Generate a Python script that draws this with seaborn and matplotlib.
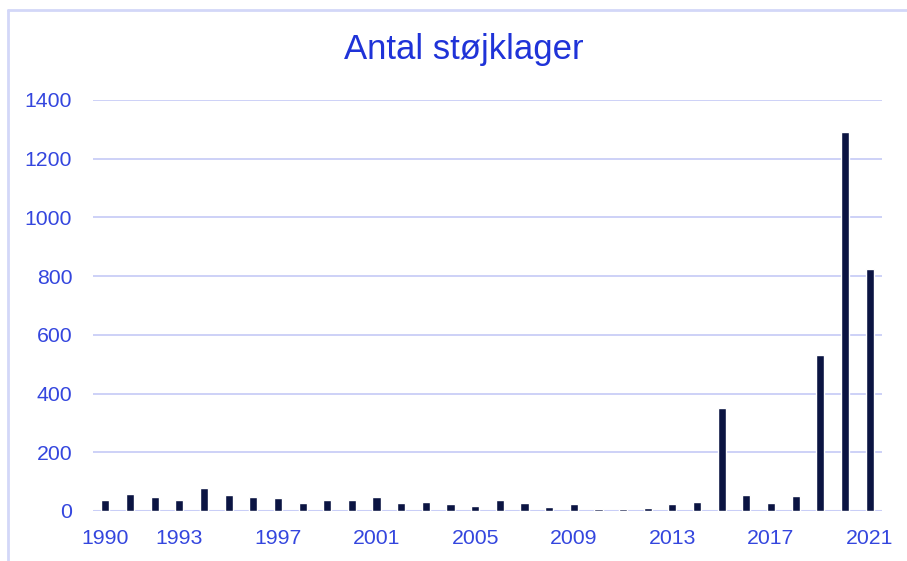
import matplotlib
matplotlib.use("Agg")
import matplotlib.pyplot as plt
import seaborn as sns
import pandas as pd
from matplotlib.lines import Line2D

years = list(range(1990, 2022))
complaints = [37, 58, 48, 38, 77, 55, 46, 45, 28, 38, 39, 46, 28, 30, 24, 17,
              37, 26, 15, 23, 7, 6, 9, 24, 31, 352, 55, 26, 52, 532, 1290, 825]
shown_labels = ["1990", "1993", "1997", "2001", "2005", "2009", "2013", "2017", "2021"]
title = "Antal støjklager"
yticks = [0, 200, 400, 600, 800, 1000, 1200, 1400]

df = pd.DataFrame({"year": [str(y) for y in years], "count": complaints})

sns.set_theme(style="white")
plt.rcParams["font.family"] = ["Liberation Sans", "DejaVu Sans"]

text_blue = "#3446de"
bar_color = "#0b1442"
grid_color = "#c9cef7"

fig = plt.figure(figsize=(9.07, 5.61), dpi=100)
ax = fig.add_axes([93/907, 1-511/561, (882-93)/907, (511-100)/561])

sns.barplot(data=df, x="year", y="count", color=bar_color, width=0.33,
            saturation=1, ax=ax, zorder=3)

ax.set_ylim(0, 1400)
ax.set_xlim(-0.5, len(years) - 0.5)
ax.set_yticks(yticks)
ax.set_yticklabels([str(v) for v in yticks])
for v in yticks:
    ax.axhline(v, color=grid_color, lw=1.3 if v else 2.2, zorder=1)

pos = [years.index(int(l)) for l in shown_labels]
ax.set_xticks(pos)
ax.set_xticklabels(shown_labels)

ax.tick_params(axis="y", labelsize=15.3, colors=text_blue, length=0, pad=15)
ax.tick_params(axis="x", labelsize=15.3, colors=text_blue, length=0, pad=13)
for s in ax.spines.values():
    s.set_visible(False)
ax.set_xlabel("")
ax.set_ylabel("")

fig.text(464/907, 1-50/561, title, ha="center", va="center", color="#1f33d8", fontsize=25)

# outer chart frame (partly cropped)
fig.add_artist(Line2D([8/907, 8/907], [0, 1-10/561], transform=fig.transFigure,
                      color="#d3d7f8", lw=2))
fig.add_artist(Line2D([8/907, 1], [1-10/561, 1-10/561], transform=fig.transFigure,
                      color="#d3d7f8", lw=2))

fig.savefig("out.png", dpi=100)
